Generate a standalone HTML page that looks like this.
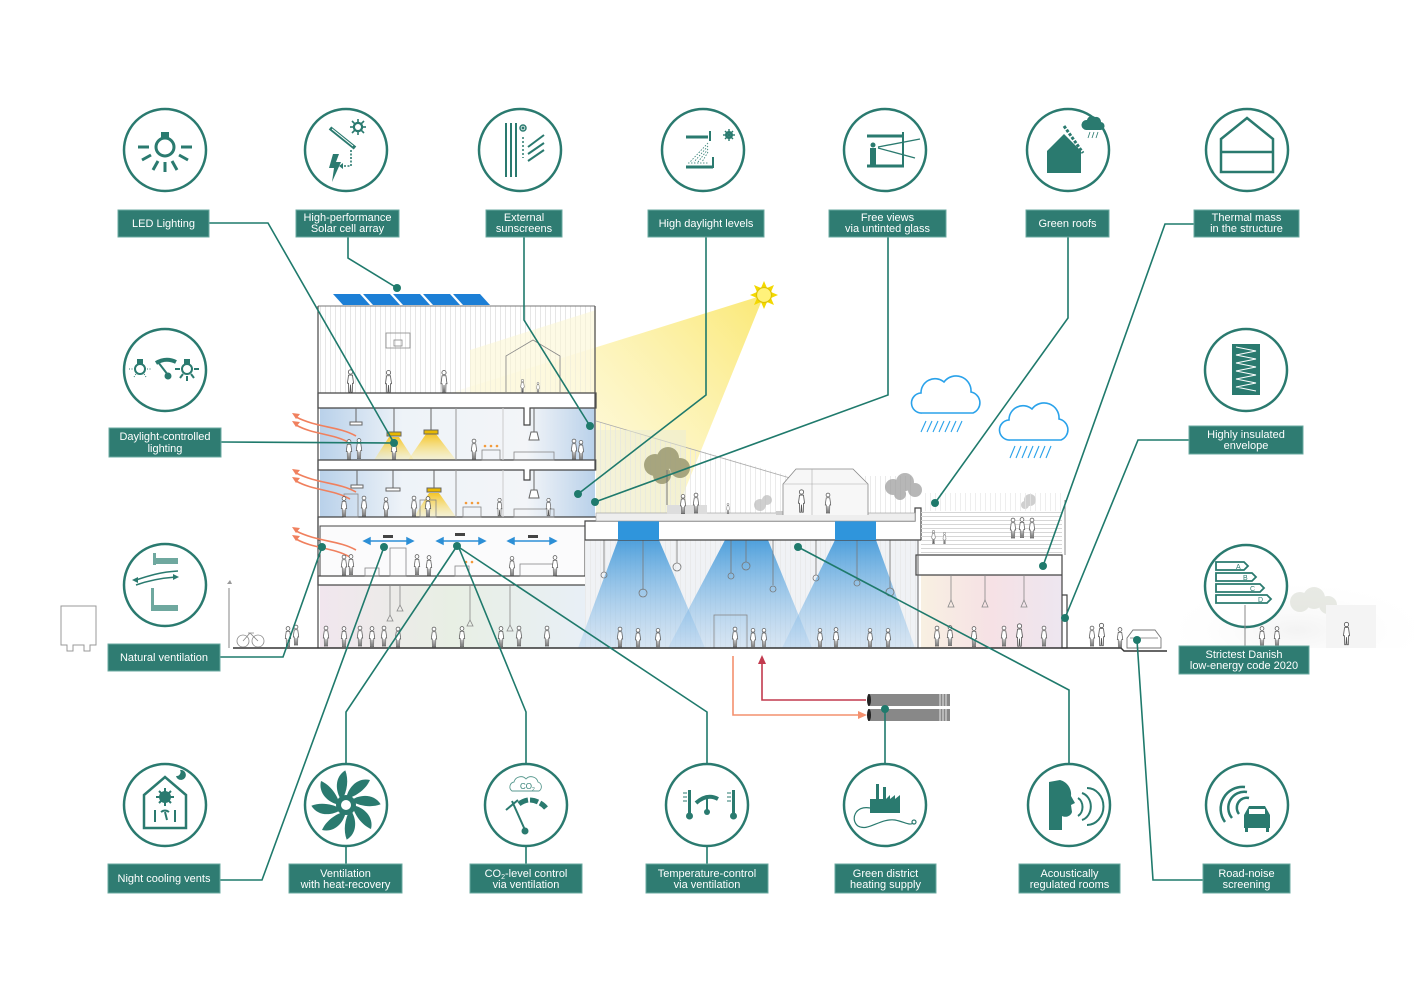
<!DOCTYPE html>
<html><head><meta charset="utf-8">
<style>
html,body{margin:0;padding:0;background:#fff;}
svg{display:block;}
text{font-family:"Liberation Sans",sans-serif;}
.lb{fill:#2f7c72;stroke:#6aaaa0;stroke-width:1}
.lt{fill:#fff;font-size:11px;text-anchor:middle;}
.ic{fill:#fff;stroke:#2a7a6f;stroke-width:2.5}
.ln{fill:none;stroke:#1f7a6c;stroke-width:1.6}
.dot{fill:#1f7a6c}
.tf{fill:#2a7a6f}
.ts{stroke:#2a7a6f;fill:none}
.b{fill:#fff;stroke:#444;stroke-width:1.2}
.g{fill:none;stroke:#888;stroke-width:0.8}
</style></head><body>
<svg width="1414" height="1000" viewBox="0 0 1414 1000" xmlns="http://www.w3.org/2000/svg">
<defs>
<pattern id="vs" width="5" height="10" patternUnits="userSpaceOnUse"><line x1="0.5" y1="0" x2="0.5" y2="10" stroke="#e6e6e6" stroke-width="1"/></pattern>
<pattern id="hs" width="10" height="4" patternUnits="userSpaceOnUse"><line x1="0" y1="0.5" x2="10" y2="0.5" stroke="#d6d6d6" stroke-width="1"/></pattern>
<linearGradient id="beam" x1="764" y1="295" x2="580" y2="460" gradientUnits="userSpaceOnUse">
<stop offset="0" stop-color="#fae666" stop-opacity="0.9"/>
<stop offset="1" stop-color="#fdf5c0" stop-opacity="0.55"/>
</linearGradient>
<linearGradient id="off" x1="0" y1="0" x2="1" y2="0">
<stop offset="0" stop-color="#b9d1ea"/><stop offset="0.3" stop-color="#eef3f8"/><stop offset="0.75" stop-color="#f3f5f8"/><stop offset="1" stop-color="#b9d1ea"/>
</linearGradient>
<linearGradient id="gf" x1="0" y1="0" x2="1" y2="0">
<stop offset="0" stop-color="#f1e6ee"/><stop offset="0.5" stop-color="#e8efe4"/><stop offset="1" stop-color="#e8eff6"/>
</linearGradient>
<linearGradient id="pk" x1="0" y1="0" x2="1" y2="0">
<stop offset="0" stop-color="#f8f0e2"/><stop offset="0.5" stop-color="#f6e1e5"/><stop offset="1" stop-color="#ede6f0"/>
</linearGradient>
<linearGradient id="cone" x1="0" y1="0" x2="0" y2="1">
<stop offset="0" stop-color="#3d97d9" stop-opacity="0.9"/><stop offset="1" stop-color="#a9cdee" stop-opacity="0.35"/>
</linearGradient>
<linearGradient id="yl" x1="0" y1="0" x2="0" y2="1">
<stop offset="0" stop-color="#f5c21c" stop-opacity="0.95"/><stop offset="1" stop-color="#fbe98a" stop-opacity="0.3"/>
</linearGradient>
<radialGradient id="fog" cx="0.5" cy="0.8" r="0.6">
<stop offset="0" stop-color="#f3f3f3"/><stop offset="1" stop-color="#fff" stop-opacity="0"/>
</radialGradient>
<symbol id="p" viewBox="0 0 10 26"><g fill="#fff" stroke="#555" stroke-width="0.9"><circle cx="5" cy="3" r="2.4"/><path d="M2.8,6.5 L7.2,6.5 L8.4,15.5 L7.2,15.5 L7,25.5 L5.6,25.5 L5,17 L4.4,25.5 L3,25.5 L2.8,15.5 L1.6,15.5 Z"/></g></symbol>
</defs>

<!-- sun beam -->
<polygon points="764,295 440,396 596,396 596,522 672,522" fill="url(#beam)"/>

<!-- ===== TALL BLOCK ===== -->
<rect x="318" y="306" width="277" height="87" fill="#fff" fill-opacity="0.6"/>
<rect x="318" y="306" width="277" height="87" fill="url(#vs)"/>
<polygon points="470,350 596,310 596,393 470,393" fill="#fcf6d4" opacity="0.6"/>
<line x1="318" y1="306" x2="595" y2="306" stroke="#777" stroke-width="1"/>
<polyline points="506,392 506,356 533,340 560,356 560,392" class="g"/>
<rect x="386" y="333" width="24" height="15" class="g"/><rect x="394" y="340" width="8" height="6" class="g"/>
<!-- solar panels -->
<g fill="#1c7fd6">
<polygon points="333,294 360,294 370,305 343,305"/>
<polygon points="363,294 390,294 400,305 373,305"/>
<polygon points="393,294 420,294 430,305 403,305"/>
<polygon points="423,294 450,294 460,305 433,305"/>
<polygon points="453,294 480,294 490,305 463,305"/>
</g>
<!-- floors -->
<rect x="320" y="408" width="275" height="52" fill="url(#off)"/>
<rect x="320" y="470" width="275" height="47" fill="url(#off)"/>
<rect x="320" y="526" width="265" height="50" fill="#fbfbfc"/>
<rect x="320" y="585" width="265" height="63" fill="url(#gf)"/>
<!-- yellow lamp cones -->
<polygon points="389,437 399,437 414,460 374,460" fill="url(#yl)"/>
<polygon points="426,434 436,434 456,460 408,460" fill="url(#yl)"/>
<polygon points="429,493 439,493 456,517 414,517" fill="url(#yl)"/>
<!-- slabs -->
<path d="M318,393 L596,393 L596,408 L530,408 L530,425 L524,425 L524,408 L318,408 Z" class="b"/>
<path d="M318,460 L596,460 L596,470 L530,470 L530,480 L524,480 L524,470 L318,470 Z" class="b"/>
<path d="M318,517 L618,517 L618,526 L585,526 L585,540 L318,540 L318,526 Z" fill="#fff" stroke="#444" stroke-width="1.2"/>
<rect x="320" y="526" width="265" height="50" fill="#fbfbfc" stroke="#444" stroke-width="1"/>
<rect x="318" y="576" width="268" height="9" class="b"/>
<line x1="318" y1="306" x2="318" y2="648" stroke="#555" stroke-width="1.3"/>
<line x1="595" y1="306" x2="595" y2="470" stroke="#555" stroke-width="1.3"/>
<line x1="456" y1="408" x2="456" y2="460" stroke="#999"/>
<line x1="456" y1="470" x2="456" y2="517" stroke="#999"/>
<line x1="503" y1="408" x2="503" y2="460" stroke="#ccc"/>
<line x1="503" y1="470" x2="503" y2="517" stroke="#ccc"/>
<!-- lamps -->
<g stroke="#666" stroke-width="1" fill="#fff">
<line x1="356" y1="408" x2="356" y2="422"/><rect x="350" y="422" width="12" height="3"/>
<line x1="394" y1="408" x2="394" y2="432"/><rect x="387" y="432" width="14" height="4" fill="#e8b800"/>
<line x1="431" y1="408" x2="431" y2="430"/><rect x="424" y="430" width="14" height="4" fill="#e8b800"/>
<line x1="534" y1="408" x2="534" y2="432"/><polygon points="531,432 537,432 539,440 529,440"/>
<line x1="357" y1="470" x2="357" y2="485"/><rect x="351" y="485" width="12" height="3"/>
<line x1="393" y1="470" x2="393" y2="488"/><rect x="386" y="488" width="14" height="3"/>
<line x1="434" y1="470" x2="434" y2="488"/><rect x="427" y="488" width="14" height="4" fill="#e8b800"/>
<line x1="534" y1="470" x2="534" y2="490"/><polygon points="531,490 537,490 539,498 529,498"/>
</g>
<!-- tables -->
<g class="g" stroke="#666">
<rect x="482" y="450" width="18" height="10"/><rect x="514" y="452" width="40" height="8"/>
<rect x="463" y="507" width="18" height="10"/><rect x="514" y="509" width="40" height="8"/>
<rect x="344" y="494" width="14" height="23"/><rect x="420" y="500" width="16" height="17"/>
<rect x="390" y="548" width="16" height="28"/><rect x="455" y="566" width="14" height="10"/><rect x="520" y="564" width="35" height="12"/>
<rect x="365" y="568" width="14" height="8"/>
</g>
<g fill="#f39a3a"><circle cx="485" cy="446" r="1.3"/><circle cx="491" cy="446" r="1.3"/><circle cx="497" cy="446" r="1.3"/>
<circle cx="466" cy="503" r="1.3"/><circle cx="472" cy="503" r="1.3"/><circle cx="478" cy="503" r="1.3"/>
<circle cx="466" cy="562" r="1.3"/><circle cx="472" cy="562" r="1.3"/></g>
<!-- ventilation arrows floor 4 -->
<g stroke="#2c8fd6" stroke-width="1.5" fill="#2c8fd6">
<line x1="367" y1="541" x2="410" y2="541"/><polygon points="364,541 370,538 370,544"/><polygon points="413,541 407,538 407,544"/>
<line x1="440" y1="541" x2="482" y2="541"/><polygon points="437,541 443,538 443,544"/><polygon points="485,541 479,538 479,544"/>
<line x1="511" y1="541" x2="553" y2="541"/><polygon points="508,541 514,538 514,544"/><polygon points="556,541 550,538 550,544"/>
</g>
<g fill="#444"><rect x="383" y="535" width="10" height="3"/><rect x="455" y="533" width="10" height="3"/><rect x="528" y="535" width="10" height="3"/></g>
<!-- orange heat waves -->
<g stroke="#f0805e" stroke-width="1.6" fill="none">
<path d="M356,436 C338,426 318,428 296,417"/><path d="M350,443 C332,433 314,435 296,425"/>
<path d="M356,492 C338,482 318,484 296,473"/><path d="M350,499 C332,489 314,491 296,481"/>
<path d="M356,550 C338,540 318,542 296,531"/><path d="M350,557 C332,547 314,549 296,539"/>
</g>
<g fill="#f0805e"><polygon points="292,413 300,414 296,419"/><polygon points="292,421 300,422 296,427"/>
<polygon points="292,469 300,470 296,475"/><polygon points="292,477 300,478 296,483"/>
<polygon points="292,527 300,528 296,533"/><polygon points="292,535 300,536 296,541"/></g>

<!-- ===== LOWER BUILDING ===== -->
<rect x="585" y="540" width="333" height="108" fill="#f0f2f5"/>
<rect x="585" y="540" width="333" height="108" fill="url(#vs)" opacity="0.7"/>
<polygon points="618,540 659,540 705,648 578,648" fill="url(#cone)"/>
<polygon points="725,540 768,540 812,648 668,648" fill="url(#cone)"/>
<polygon points="835,540 876,540 915,648 782,648" fill="url(#cone)"/>
<!-- pendant lights -->
<g stroke="#777" stroke-width="0.8" fill="none">
<line x1="604" y1="540" x2="604" y2="572"/><circle cx="604" cy="575" r="3"/>
<line x1="643" y1="540" x2="643" y2="590"/><circle cx="643" cy="593" r="4"/>
<line x1="677" y1="540" x2="677" y2="563"/><circle cx="677" cy="567" r="4"/>
<line x1="731" y1="540" x2="731" y2="573"/><circle cx="731" cy="576" r="3"/>
<line x1="746" y1="540" x2="746" y2="562"/><circle cx="746" cy="566" r="4"/>
<line x1="773" y1="540" x2="773" y2="585"/><circle cx="773" cy="589" r="3"/>
<line x1="816" y1="540" x2="816" y2="575"/><circle cx="816" cy="578" r="3"/>
<line x1="857" y1="540" x2="857" y2="580"/><circle cx="857" cy="583" r="3"/>
<line x1="890" y1="540" x2="890" y2="588"/><circle cx="890" cy="592" r="4"/>
</g>
<rect x="714" y="615" width="33" height="33" class="g"/>
<!-- roof slab -->
<path d="M585,521 L915,521 L915,508 L921,508 L921,540 L585,540 Z" fill="#fff" stroke="#444" stroke-width="1.2"/>
<rect x="618" y="521" width="41" height="19" fill="#2f95dc"/>
<rect x="835" y="521" width="41" height="19" fill="#2f95dc"/>
<!-- roof garden -->
<polygon points="596,421 790,476 915,476 915,513 596,513" fill="url(#vs)" opacity="0.8"/>
<line x1="596" y1="421" x2="790" y2="478" stroke="#aaa" stroke-width="0.8"/>
<rect x="596" y="430" width="90" height="83" fill="#e9ecd8" opacity="0.5"/>
<rect x="596" y="513" width="319" height="8" fill="#eee" stroke="#999" stroke-width="0.6"/>
<rect x="667" y="505" width="40" height="9" fill="#ddd"/><rect x="776" y="511" width="30" height="4" fill="#ccc"/>
<g fill="#9a9870" opacity="0.85"><circle cx="655" cy="465" r="11"/><circle cx="668" cy="458" r="11"/><circle cx="680" cy="468" r="10"/><circle cx="662" cy="475" r="9"/></g>
<line x1="667" y1="470" x2="667" y2="505" stroke="#777"/>
<g fill="#999" opacity="0.7"><circle cx="893" cy="487" r="8"/><circle cx="905" cy="482" r="9"/><circle cx="915" cy="490" r="7"/><circle cx="900" cy="494" r="6"/></g>
<g fill="#bbb" opacity="0.7"><circle cx="760" cy="505" r="6"/><circle cx="767" cy="500" r="5"/><circle cx="1030" cy="500" r="6"/><circle cx="1025" cy="505" r="4"/></g>
<polyline points="783,515 783,484 796,469 853,469 868,484 868,515" fill="#f7f7f7" stroke="#888" stroke-width="0.8"/>
<line x1="783" y1="484" x2="868" y2="484" stroke="#aaa" stroke-width="0.6"/>
<line x1="812" y1="469" x2="812" y2="515" stroke="#aaa" stroke-width="0.6"/>
<!-- right block -->
<rect x="921" y="510" width="141" height="46" fill="url(#hs)"/>
<rect x="921" y="493" width="144" height="18" fill="url(#vs)" opacity="0.7"/>
<rect x="921" y="575" width="141" height="73" fill="url(#pk)"/>
<path d="M916,555 L1062,555 L1062,595 L1067,595 L1067,648 L1062,648 L1062,575 L916,575 Z" fill="#fff" stroke="#444" stroke-width="1.2"/>
<line x1="918" y1="540" x2="918" y2="648" stroke="#666"/>
<line x1="1065" y1="500" x2="1065" y2="555" stroke="#888"/>
<g stroke="#888" stroke-width="0.8" fill="none">
<line x1="951" y1="575" x2="951" y2="600"/><polygon points="951,600 948,607 954,607"/>
<line x1="985" y1="575" x2="985" y2="600"/><polygon points="985,600 982,607 988,607"/>
<line x1="1024" y1="575" x2="1024" y2="600"/><polygon points="1024,600 1021,607 1027,607"/>
<line x1="390" y1="585" x2="390" y2="615"/><polygon points="390,615 387,621 393,621"/>
<line x1="400" y1="585" x2="400" y2="605"/><polygon points="400,605 397,611 403,611"/>
<line x1="470" y1="585" x2="470" y2="620"/><polygon points="470,620 467,626 473,626"/>
<line x1="510" y1="585" x2="510" y2="625"/><polygon points="510,625 507,631 513,631"/>
</g>

<!-- ground -->
<line x1="233" y1="648" x2="1121" y2="648" stroke="#333" stroke-width="1.4"/>
<polyline points="1121,648 1124,651 1167,651" fill="none" stroke="#333" stroke-width="1.4"/>
<rect x="1180" y="560" width="234" height="88" fill="url(#fog)"/>
<g fill="#d6d9cf" opacity="0.55"><circle cx="1300" cy="602" r="10"/><circle cx="1314" cy="598" r="11"/><circle cx="1328" cy="605" r="9"/></g>
<rect x="1326" y="605" width="50" height="43" fill="#f4f4f4"/>
<!-- truck, lamp, bikes -->
<path d="M61,606 L96,606 L96,645 L90,645 L90,651 L84,651 L84,645 L73,645 L73,651 L67,651 L67,645 L61,645 Z" fill="#fff" stroke="#999" stroke-width="1"/>
<line x1="229" y1="588" x2="229" y2="648" stroke="#999" stroke-width="1.2"/><path d="M227,584 l3,-4 l2,4 z" fill="#999"/>
<g class="g"><circle cx="243" cy="641" r="6"/><circle cx="258" cy="641" r="6"/><path d="M243,641 L250,633 L258,641 M248,633 L254,633"/></g>
<!-- car -->
<path d="M1127,648 L1127,638 L1133,630 L1155,630 L1161,638 L1161,648 Z" fill="#fff" stroke="#777" stroke-width="0.9"/>
<line x1="1130" y1="638" x2="1158" y2="638" stroke="#999"/>
<!-- people -->
<g>
<use href="#p" x="346" y="369" width="9" height="24"/><use href="#p" x="384" y="370" width="9" height="23"/>
<use href="#p" x="439" y="370" width="10" height="23"/><use href="#p" x="518" y="379" width="9" height="14"/><use href="#p" x="534" y="382" width="8" height="11"/>
<use href="#p" x="345" y="439" width="8" height="21"/><use href="#p" x="355" y="437" width="8" height="23"/><use href="#p" x="390" y="439" width="8" height="21"/>
<use href="#p" x="470" y="438" width="8" height="22"/><use href="#p" x="570" y="438" width="8" height="22"/><use href="#p" x="577" y="440" width="8" height="20"/>
<use href="#p" x="340" y="496" width="8" height="21"/><use href="#p" x="360" y="495" width="8" height="22"/><use href="#p" x="382" y="497" width="8" height="20"/>
<use href="#p" x="410" y="495" width="8" height="22"/><use href="#p" x="424" y="496" width="8" height="21"/><use href="#p" x="496" y="497" width="7" height="20"/><use href="#p" x="545" y="497" width="7" height="20"/>
<use href="#p" x="340" y="554" width="8" height="22"/><use href="#p" x="347" y="553" width="8" height="23"/><use href="#p" x="413" y="553" width="8" height="23"/>
<use href="#p" x="425" y="555" width="8" height="21"/><use href="#p" x="508" y="556" width="8" height="20"/><use href="#p" x="551" y="555" width="8" height="21"/>
</g>
<g>
<use href="#p" x="284" y="625" width="8" height="23"/><use href="#p" x="292" y="622" width="8" height="26"/><use href="#p" x="322" y="624" width="8" height="24"/>
<use href="#p" x="340" y="625" width="8" height="23"/><use href="#p" x="356" y="624" width="8" height="24"/><use href="#p" x="368" y="625" width="8" height="23"/>
<use href="#p" x="380" y="624" width="8" height="24"/><use href="#p" x="394" y="626" width="8" height="22"/><use href="#p" x="430" y="626" width="8" height="22"/>
<use href="#p" x="458" y="625" width="8" height="23"/><use href="#p" x="497" y="625" width="8" height="23"/><use href="#p" x="515" y="624" width="8" height="24"/>
<use href="#p" x="543" y="624" width="8" height="24"/><use href="#p" x="616" y="626" width="8" height="22"/><use href="#p" x="634" y="628" width="8" height="20"/>
<use href="#p" x="654" y="628" width="8" height="20"/><use href="#p" x="731" y="626" width="8" height="22"/><use href="#p" x="749" y="628" width="8" height="20"/>
<use href="#p" x="760" y="628" width="8" height="20"/><use href="#p" x="816" y="628" width="8" height="20"/><use href="#p" x="832" y="627" width="8" height="21"/>
<use href="#p" x="866" y="628" width="8" height="20"/><use href="#p" x="884" y="628" width="8" height="20"/><use href="#p" x="933" y="624" width="8" height="24"/>
<use href="#p" x="946" y="623" width="8" height="25"/><use href="#p" x="970" y="625" width="8" height="23"/><use href="#p" x="1000" y="624" width="8" height="24"/>
<use href="#p" x="1015" y="622" width="9" height="26"/><use href="#p" x="1040" y="624" width="8" height="24"/><use href="#p" x="1088" y="624" width="8" height="24"/>
<use href="#p" x="1097" y="621" width="9" height="27"/><use href="#p" x="1116" y="627" width="8" height="21"/>
<use href="#p" x="1258" y="625" width="8" height="23"/><use href="#p" x="1273" y="625" width="8" height="23"/><use href="#p" x="1342" y="620" width="9" height="27"/>
<use href="#p" x="679" y="494" width="8" height="20"/><use href="#p" x="692" y="492" width="8" height="22"/><use href="#p" x="724" y="503" width="8" height="11"/>
<use href="#p" x="797" y="488" width="9" height="26"/><use href="#p" x="824" y="492" width="8" height="22"/>
<use href="#p" x="1009" y="517" width="8" height="22"/><use href="#p" x="1018" y="516" width="8" height="23"/><use href="#p" x="1028" y="517" width="8" height="22"/>
<use href="#p" x="930" y="530" width="7" height="14"/><use href="#p" x="941" y="532" width="7" height="12"/>
</g>

<!-- sun -->
<g transform="translate(764,295)">
<polygon points="0,-14 3,-7 10,-10 7,-3 14,0 7,3 10,10 3,7 0,14 -3,7 -10,10 -7,3 -14,0 -7,-3 -10,-10 -3,-7" fill="#f3d800"/>
<circle r="7.5" fill="#fff27a" stroke="#e0c400" stroke-width="1.2"/>
</g>
<!-- clouds -->
<g fill="#fff" stroke="#2aa2ea" stroke-width="1.6">
<path d="M922,413 A10,10 0 0 1 921,393 A14,14 0 0 1 944,382 A15,15 0 0 1 971,392 A11,11 0 0 1 973,413 Z"/>
<path transform="translate(88,27)" d="M922,413 A10,10 0 0 1 921,393 A14,14 0 0 1 944,382 A15,15 0 0 1 971,392 A11,11 0 0 1 973,413 Z"/>
</g>
<g stroke="#2aa2ea" stroke-width="1.1">
<line x1="926" y1="421" x2="921" y2="432"/><line x1="932" y1="421" x2="927" y2="432"/><line x1="938" y1="421" x2="933" y2="432"/><line x1="944" y1="421" x2="939" y2="432"/><line x1="950" y1="421" x2="945" y2="432"/><line x1="956" y1="421" x2="951" y2="432"/><line x1="962" y1="421" x2="957" y2="432"/>
<line x1="1015" y1="446" x2="1010" y2="458"/><line x1="1021" y1="446" x2="1016" y2="458"/><line x1="1027" y1="446" x2="1022" y2="458"/><line x1="1033" y1="446" x2="1028" y2="458"/><line x1="1039" y1="446" x2="1034" y2="458"/><line x1="1045" y1="446" x2="1040" y2="458"/><line x1="1051" y1="446" x2="1046" y2="458"/>
</g>

<!-- heating pipes -->
<polyline points="733,656 733,715 860,715" fill="none" stroke="#f4906e" stroke-width="1.6"/>
<polygon points="867,715 858,711 858,719" fill="#f4906e"/>
<polyline points="866,700 762,700 762,662" fill="none" stroke="#c23a4e" stroke-width="1.6"/>
<polygon points="762,655 758,664 766,664" fill="#c23a4e"/>
<rect x="868" y="694" width="82" height="12" fill="#888"/>
<rect x="868" y="709" width="82" height="12" fill="#888"/>
<g stroke="#fff" stroke-width="0.8"><line x1="940" y1="694" x2="940" y2="721"/><line x1="943" y1="694" x2="943" y2="721"/><line x1="946" y1="694" x2="946" y2="721"/></g>
<ellipse cx="869" cy="700" rx="2" ry="6" fill="#222"/><ellipse cx="869" cy="715" rx="2" ry="6" fill="#222"/>

<!-- ===== LEADER LINES ===== -->
<g class="ln">
<polyline points="209,223 268,223 394,443"/>
<polyline points="348,237 348,258 397,288"/>
<polyline points="524,237 524,320 590,426"/>
<polyline points="706,237 706,395 578,494"/>
<polyline points="888,237 888,395 595,502"/>
<polyline points="1068,237 1068,318 935,503"/>
<polyline points="1194,224 1165,224 1043,566"/>
<polyline points="221,442 394,443"/>
<polyline points="220,657 283,657 322,547"/>
<polyline points="1189,440 1138,440 1065,618"/>
<polyline points="220,880 262,880 384,547"/>
<polyline points="346,864 346,712 457,546"/>
<polyline points="526,864 526,712 459,548"/>
<polyline points="707,864 707,712 457,546"/>
<polyline points="885,764 885,709"/>
<polyline points="1069,764 1069,690 798,547"/>
<polyline points="1203,880 1153,880 1137,640"/>
</g>
<line x1="1245" y1="628" x2="1245" y2="646" stroke="#888" stroke-width="1"/>
<g class="dot">
<circle cx="394" cy="443" r="4"/><circle cx="397" cy="288" r="4"/><circle cx="590" cy="426" r="4"/><circle cx="578" cy="494" r="4"/>
<circle cx="595" cy="502" r="4"/><circle cx="935" cy="503" r="4"/><circle cx="1043" cy="566" r="4"/><circle cx="322" cy="547" r="4"/>
<circle cx="1065" cy="618" r="4"/><circle cx="384" cy="547" r="4"/><circle cx="457" cy="546" r="4"/><circle cx="885" cy="709" r="4"/>
<circle cx="798" cy="547" r="4"/><circle cx="1137" cy="640" r="4"/>
</g>

<!-- ===== ICON CIRCLES ===== -->
<g class="ic">
<circle cx="165" cy="150" r="41"/><circle cx="346" cy="150" r="41"/><circle cx="520" cy="150" r="41"/><circle cx="703" cy="150" r="41"/>
<circle cx="885" cy="150" r="41"/><circle cx="1068" cy="150" r="41"/><circle cx="1247" cy="150" r="41"/>
<circle cx="165" cy="370" r="41"/><circle cx="165" cy="585" r="41"/><circle cx="1246" cy="370" r="41"/><circle cx="1246" cy="586" r="41"/>
<circle cx="165" cy="805" r="41"/><circle cx="346" cy="805" r="41"/><circle cx="526" cy="805" r="41"/><circle cx="707" cy="805" r="41"/>
<circle cx="885" cy="805" r="41"/><circle cx="1069" cy="805" r="41"/><circle cx="1247" cy="805" r="41"/>
</g>

<!-- LED -->
<g transform="translate(165,150)" stroke="#2a7a6f" stroke-width="3" fill="none">
<circle cx="0" cy="-3" r="9"/><rect x="-4" y="-18" width="8" height="6" fill="#2a7a6f" stroke="none"/>
<line x1="-27" y1="-3" x2="-16" y2="-3"/><line x1="16" y1="-3" x2="27" y2="-3"/>
<line x1="-23" y1="10" x2="-14" y2="5"/><line x1="14" y1="5" x2="23" y2="10"/>
<line x1="-12" y1="20" x2="-7" y2="11"/><line x1="7" y1="11" x2="12" y2="20"/><line x1="0" y1="12" x2="0" y2="22"/>
</g>
<!-- Solar -->
<g transform="translate(346,150)">
<line x1="-16" y1="-22" x2="9" y2="-2" stroke="#2a7a6f" stroke-width="4"/>
<line x1="-14" y1="-21" x2="7" y2="-4" stroke="#fff" stroke-width="1"/>
<circle cx="12" cy="-23" r="4" fill="none" stroke="#2a7a6f" stroke-width="2.5"/>
<g stroke="#2a7a6f" stroke-width="1.6"><line x1="12" y1="-31" x2="12" y2="-15"/><line x1="4" y1="-23" x2="20" y2="-23"/><line x1="6" y1="-29" x2="18" y2="-17"/><line x1="6" y1="-17" x2="18" y2="-29"/></g>
<circle cx="12" cy="-23" r="3" fill="#fff"/>
<polygon points="-13,4 -7,4 -10,12 -5,12 -14,32 -12,18 -17,18" fill="#2a7a6f"/>
<polyline points="5,0 5,16 -4,16" fill="none" stroke="#2a7a6f" stroke-width="1.6" stroke-dasharray="2,1.5"/>
<polygon points="-7,16 -3,13 -3,19" fill="#2a7a6f"/>
</g>
<!-- Sunscreens -->
<g stroke="#2a7a6f" fill="none">
<line x1="506" y1="123" x2="506" y2="177" stroke-width="2"/><line x1="511" y1="123" x2="511" y2="177" stroke-width="2"/><line x1="516" y1="123" x2="516" y2="177" stroke-width="2"/>
<line x1="523" y1="137" x2="523" y2="158" stroke-width="1.5" stroke-dasharray="2,2"/>
<circle cx="523" cy="128" r="3" stroke-width="1.5"/><circle cx="523" cy="128" r="1" fill="#2a7a6f"/>
<line x1="528" y1="147" x2="544" y2="135" stroke-width="2"/><line x1="528" y1="154" x2="544" y2="143" stroke-width="2"/><line x1="528" y1="161" x2="544" y2="150" stroke-width="2"/>
</g>
<!-- Daylight -->
<g stroke="#2a7a6f" fill="none">
<line x1="686" y1="137" x2="708" y2="137" stroke-width="3"/><line x1="710" y1="131" x2="710" y2="141" stroke-width="2"/>
<line x1="686" y1="167" x2="713" y2="167" stroke-width="3"/><line x1="713" y1="157" x2="713" y2="168" stroke-width="2"/>
<circle cx="729" cy="135" r="3" stroke-width="2"/>
<g stroke-width="1.4"><line x1="729" y1="129" x2="729" y2="141"/><line x1="723" y1="135" x2="735" y2="135"/><line x1="725" y1="131" x2="733" y2="139"/><line x1="725" y1="139" x2="733" y2="131"/></g>
<g stroke-width="0.8" stroke-dasharray="1.5,1.5"><line x1="708" y1="143" x2="690" y2="162"/><line x1="708" y1="146" x2="694" y2="162"/><line x1="708" y1="149" x2="698" y2="162"/><line x1="708" y1="152" x2="702" y2="162"/><line x1="688" y1="163" x2="708" y2="163"/></g>
</g>
<!-- Free views -->
<g stroke="#2a7a6f" fill="none">
<line x1="867" y1="136" x2="903" y2="136" stroke-width="3"/><line x1="903" y1="132" x2="903" y2="167" stroke-width="2"/>
<line x1="867" y1="166" x2="904" y2="166" stroke-width="3"/>
<line x1="878" y1="147" x2="920" y2="139" stroke-width="1.3"/><line x1="878" y1="148" x2="915" y2="158" stroke-width="1.3"/>
</g>
<g fill="#2a7a6f"><circle cx="873" cy="145" r="2.5"/><rect x="870" y="148" width="6" height="17"/></g>
<!-- Green roofs -->
<g fill="#2a7a6f">
<polygon points="1047,173 1047,151 1064,134 1081,151 1081,173"/>
<path d="M1087,120 a5,5 0 0 1 8,-3 a5,5 0 0 1 6,5 a4,4 0 0 1 -1,8 l-14,0 a4,4 0 0 1 1,-10z"/>
</g>
<g stroke="#2a7a6f" stroke-width="3" fill="none"><line x1="1064" y1="126" x2="1083" y2="153" stroke-dasharray="3,1.5"/></g>
<g stroke="#2a7a6f" stroke-width="0.8"><line x1="1090" y1="132" x2="1088" y2="138"/><line x1="1094" y1="132" x2="1092" y2="138"/><line x1="1098" y1="132" x2="1096" y2="138"/></g>
<!-- Thermal mass -->
<g stroke="#2a7a6f" stroke-width="2.5" fill="none">
<polygon points="1221,172 1221,139 1247,118 1273,139 1273,172"/><line x1="1221" y1="152" x2="1273" y2="152"/>
</g>
<!-- Daylight-controlled -->
<g stroke="#2a7a6f" fill="none" stroke-width="2">
<circle cx="140" cy="369" r="5"/><rect x="138" y="360" width="4" height="3" fill="#2a7a6f"/>
<g stroke-width="1" stroke-dasharray="1,1.5"><line x1="129" y1="369" x2="133" y2="369"/><line x1="147" y1="369" x2="151" y2="369"/><line x1="134" y1="377" x2="136" y2="374"/><line x1="146" y1="377" x2="144" y2="374"/></g>
<path d="M156,363 Q166,357 176,362" stroke-width="4"/>
<line x1="158" y1="362" x2="168" y2="375" stroke-width="2"/><circle cx="168" cy="376" r="2.5" fill="#2a7a6f"/>
<circle cx="187" cy="369" r="5"/><rect x="185" y="360" width="4" height="3" fill="#2a7a6f"/>
<line x1="175" y1="369" x2="180" y2="369"/><line x1="194" y1="369" x2="199" y2="369"/><line x1="180" y1="378" x2="183" y2="374"/><line x1="194" y1="378" x2="191" y2="374"/><line x1="187" y1="376" x2="187" y2="381"/>
</g>
<!-- Natural ventilation -->
<g fill="#6fa89f">
<rect x="153" y="553" width="3" height="12"/><rect x="153" y="558" width="25" height="6"/>
<rect x="151" y="588" width="3" height="20"/><rect x="151" y="605" width="27" height="6"/>
</g>
<g stroke="#2a7a6f" stroke-width="1.6" fill="none">
<path d="M178,571 C160,572 148,576 136,580"/><path d="M136,585 C150,580 162,578 176,577"/>
</g>
<g fill="#2a7a6f"><polygon points="132,580 138,577 138,583"/><polygon points="179,577 173,574 173,580"/></g>
<!-- Highly insulated -->
<rect x="1232" y="344" width="28" height="51" fill="#2a7a6f"/>
<path d="M1236,347 L1256,351 L1236,355 L1256,359 L1236,363 L1256,367 L1236,371 L1256,375 L1236,379 L1256,383 L1236,387 L1256,391" fill="none" stroke="#fff" stroke-width="1"/>
<!-- Energy label -->
<g stroke="#2a7a6f" stroke-width="1.8" fill="#fff">
<polygon points="1216,562 1244,562 1248,566 1244,570 1216,570"/>
<polygon points="1216,573 1252,573 1256,577 1252,581 1216,581"/>
<polygon points="1216,584 1260,584 1264,588 1260,592 1216,592"/>
<polygon points="1216,595 1267,595 1271,599 1267,603 1216,603"/>
</g>
<g fill="#2a7a6f" font-size="7" font-family="Liberation Sans,sans-serif"><text x="1236" y="569">A</text><text x="1243" y="580">B</text><text x="1250" y="591">C</text><text x="1258" y="602">D</text></g>
<line x1="1245" y1="605" x2="1245" y2="628" stroke="#888" stroke-width="1"/>
<!-- Night cooling -->
<g stroke="#2a7a6f" stroke-width="2.5" fill="none"><polygon points="144,828 144,795 165,777 186,795 186,828"/></g>
<circle cx="165" cy="797" r="6" fill="#2a7a6f"/><circle cx="165" cy="797" r="2" fill="#fff"/>
<g stroke="#2a7a6f" stroke-width="2"><line x1="165" y1="788" x2="165" y2="806"/><line x1="156" y1="797" x2="174" y2="797"/><line x1="159" y1="791" x2="171" y2="803"/><line x1="159" y1="803" x2="171" y2="791"/></g>
<path d="M176,776 a5,5 0 1 0 4,-6 a4,4 0 0 1 -4,6z" fill="#2a7a6f"/>
<g stroke="#2a7a6f" stroke-width="2"><line x1="155" y1="810" x2="155" y2="822"/><line x1="175" y1="810" x2="175" y2="822"/><path d="M161,812 q4,-3 8,0" fill="none"/><line x1="165" y1="812" x2="167" y2="820"/></g>
<!-- Fan -->
<g transform="translate(346,805)" fill="#2a7a6f">
<g id="bl"><path d="M0,-6 C2,-18 12,-28 24,-25 C20,-16 11,-9 0,-6Z"/></g>
<use href="#bl" transform="rotate(45)"/><use href="#bl" transform="rotate(90)"/><use href="#bl" transform="rotate(135)"/>
<use href="#bl" transform="rotate(180)"/><use href="#bl" transform="rotate(225)"/><use href="#bl" transform="rotate(270)"/><use href="#bl" transform="rotate(315)"/>
<circle r="10" fill="#2a7a6f"/><circle r="5" fill="#fff"/>
</g>
<!-- CO2 -->
<path d="M512,791 a5,5 0 0 1 2,-9 a7,7 0 0 1 12,-3 a7,7 0 0 1 12,3 a5,5 0 0 1 1,9 Z" fill="#fff" stroke="#5a9a90" stroke-width="0.9"/>
<text x="520" y="789" font-size="8" fill="#2a7a6f">CO<tspan font-size="5" dy="2">2</tspan></text>
<g stroke="#2a7a6f" stroke-width="5" fill="none"><path d="M519,804 A20,20 0 0 1 528,800"/><path d="M530,800 A20,20 0 0 1 538,802"/><path d="M540,803 A20,20 0 0 1 546,808"/></g>
<line x1="512" y1="801" x2="525" y2="830" stroke="#2a7a6f" stroke-width="2"/><line x1="506" y1="810" x2="518" y2="800" stroke="#2a7a6f" stroke-width="2"/>
<circle cx="525" cy="831" r="3.5" fill="#2a7a6f"/>
<!-- Temperature -->
<g fill="#2a7a6f">
<rect x="688" y="790" width="3" height="24"/><circle cx="689.5" cy="816" r="3.5"/>
<rect x="732" y="790" width="3" height="24"/><circle cx="733.5" cy="816" r="3.5"/>
<circle cx="707" cy="812" r="3"/>
</g>
<g stroke="#2a7a6f" stroke-width="1"><line x1="683" y1="793" x2="687" y2="793"/><line x1="683" y1="797" x2="687" y2="797"/><line x1="683" y1="801" x2="687" y2="801"/><line x1="727" y1="793" x2="731" y2="793"/><line x1="727" y1="797" x2="731" y2="797"/><line x1="727" y1="801" x2="731" y2="801"/></g>
<path d="M696,803 Q707,793 718,799" fill="none" stroke="#2a7a6f" stroke-width="4"/>
<line x1="707" y1="798" x2="707" y2="812" stroke="#2a7a6f" stroke-width="2"/>
<!-- Green district -->
<path d="M870,813 L870,799 L876,799 L876,784 L879,784 L879,799 L883,799 L883,787 L886,787 L886,799 L890,795 L890,799 L895,795 L895,799 L900,795 L900,813 Z" fill="#2a7a6f"/>
<path d="M870,808 C855,805 850,820 858,826 C868,832 880,818 895,820 C905,822 910,826 913,823" fill="none" stroke="#2a7a6f" stroke-width="1.2"/>
<circle cx="914" cy="822" r="2" fill="none" stroke="#2a7a6f" stroke-width="1.2"/>
<!-- Acoustic -->
<path d="M1049,782 L1060,780 C1068,782 1072,790 1071,796 L1075,803 L1071,805 L1072,812 C1071,816 1066,818 1062,816 L1062,830 L1049,830 Z" fill="#2a7a6f"/>
<g stroke="#2a7a6f" stroke-width="2" fill="none"><path d="M1078,798 a8,10 0 0 1 0,18"/><path d="M1082,793 a12,14 0 0 1 0,27"/><path d="M1087,788 a16,18 0 0 1 0,37"/></g>
<!-- Road noise -->
<g stroke="#2a7a6f" stroke-width="2.5" fill="none">
<path d="M1225,822 a22,22 0 0 1 20,-35"/><path d="M1232,818 a16,16 0 0 1 15,-26"/><path d="M1239,814 a10,10 0 0 1 10,-16"/>
</g>
<path d="M1244,828 L1244,815 L1249,806 L1265,806 L1270,815 L1270,828 Z" fill="#2a7a6f"/>
<rect x="1249" y="809" width="16" height="5" fill="#fff"/>
<rect x="1245" y="828" width="3" height="4" fill="#2a7a6f"/><rect x="1266" y="828" width="3" height="4" fill="#2a7a6f"/>

<!-- ===== LABELS ===== -->
<g>
<rect class="lb" x="118" y="210" width="91" height="27"/><text class="lt" x="163.5" y="227">LED Lighting</text>
<rect class="lb" x="296" y="210" width="103" height="27"/><text class="lt" x="347.5" y="221">High-performance</text><text class="lt" x="347.5" y="232">Solar cell array</text>
<rect class="lb" x="486" y="210" width="76" height="27"/><text class="lt" x="524" y="221">External</text><text class="lt" x="524" y="232">sunscreens</text>
<rect class="lb" x="648" y="210" width="116" height="27"/><text class="lt" x="706" y="227">High daylight levels</text>
<rect class="lb" x="829" y="210" width="117" height="27"/><text class="lt" x="887.5" y="221">Free views</text><text class="lt" x="887.5" y="232">via untinted glass</text>
<rect class="lb" x="1026" y="210" width="83" height="27"/><text class="lt" x="1067.5" y="227">Green roofs</text>
<rect class="lb" x="1194" y="210" width="105" height="27"/><text class="lt" x="1246.5" y="221">Thermal mass</text><text class="lt" x="1246.5" y="232">in the structure</text>
<rect class="lb" x="109" y="428" width="112" height="29"/><text class="lt" x="165" y="440">Daylight-controlled</text><text class="lt" x="165" y="452">lighting</text>
<rect class="lb" x="108" y="644" width="112" height="27"/><text class="lt" x="164" y="661">Natural ventilation</text>
<rect class="lb" x="1189" y="426" width="114" height="28"/><text class="lt" x="1246" y="438">Highly insulated</text><text class="lt" x="1246" y="449">envelope</text>
<rect class="lb" x="1179" y="646" width="130" height="28"/><text class="lt" x="1244" y="658">Strictest Danish</text><text class="lt" x="1244" y="669">low-energy code 2020</text>
<rect class="lb" x="108" y="864" width="112" height="29"/><text class="lt" x="164" y="882">Night cooling vents</text>
<rect class="lb" x="289" y="864" width="113" height="29"/><text class="lt" x="345.5" y="877">Ventilation</text><text class="lt" x="345.5" y="888">with heat-recovery</text>
<rect class="lb" x="470" y="864" width="112" height="29"/><text class="lt" x="526" y="877">CO<tspan font-size="7" dy="2">2</tspan><tspan dy="-2">-level control</tspan></text><text class="lt" x="526" y="888">via ventilation</text>
<rect class="lb" x="646" y="864" width="122" height="29"/><text class="lt" x="707" y="877">Temperature-control</text><text class="lt" x="707" y="888">via ventilation</text>
<rect class="lb" x="835" y="864" width="101" height="29"/><text class="lt" x="885.5" y="877">Green district</text><text class="lt" x="885.5" y="888">heating supply</text>
<rect class="lb" x="1019" y="864" width="101" height="29"/><text class="lt" x="1069.5" y="877">Acoustically</text><text class="lt" x="1069.5" y="888">regulated rooms</text>
<rect class="lb" x="1203" y="864" width="87" height="29"/><text class="lt" x="1246.5" y="877">Road-noise</text><text class="lt" x="1246.5" y="888">screening</text>
</g>
</svg>
</body></html>
